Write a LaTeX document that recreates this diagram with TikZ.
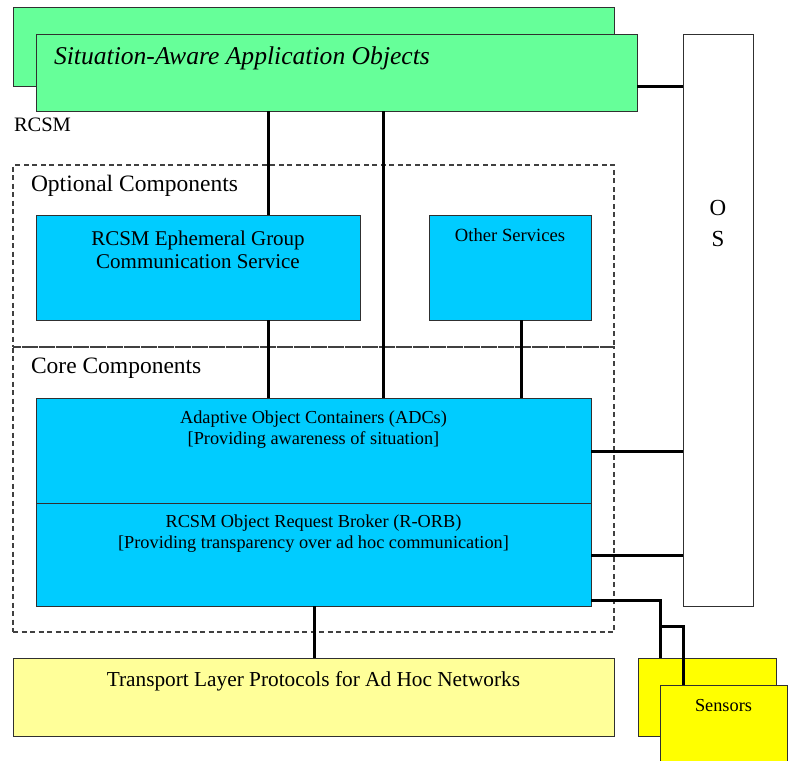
\documentclass[tikz,border=0pt]{standalone}
\usepackage{fontspec}
\setmainfont{Liberation Serif}
\usetikzlibrary{calc}
\definecolor{appgreen}{HTML}{66FF99}
\definecolor{corecyan}{HTML}{00CCFF}
\definecolor{paleyellow}{HTML}{FFFF99}
\definecolor{sensoryellow}{HTML}{FFFF00}
\definecolor{edge}{HTML}{303030}
\definecolor{dashgray}{HTML}{404040}
\newcommand{\fs}[2]{\fontsize{#1}{#2}\selectfont}
\begin{document}
\begin{tikzpicture}[x=1pt,y=-1pt,
  box/.style={draw=edge, line width=1pt, inner sep=0pt, outer sep=0pt, anchor=north west},
  grp/.style={draw=dashgray, dash pattern=on 5pt off 3.5pt, line width=1.2pt,
              inner sep=0pt, outer sep=0pt, anchor=north west},
  conn/.style={line width=3pt, black},
  txt/.style={inner sep=0pt, outer sep=0pt, align=center}]
\useasboundingbox (0,0) rectangle (788,761);

% application objects (stacked pair)
\node[box, fill=appgreen, minimum width=601pt, minimum height=79pt] (apoback) at (13,7) {};
\node[box, fill=appgreen, minimum width=601pt, minimum height=77pt] (apo) at (36,34) {};
\node[txt, anchor=west, font=\fs{25.6}{29}\itshape] (apotext) at (54,58) {Situation-Aware Application Objects};

% operating system column
\node[box, fill=white, minimum width=70pt, minimum height=572pt] (os) at (683,34) {};
\node[txt, font=\fs{23}{26}, text height=16pt] (ostext1) at (718,208) {O};
\node[txt, font=\fs{23}{26}, text height=16pt] (ostext2) at (718,239) {S};

\node[txt, anchor=west, font=\fs{20.5}{23}] (rcsm) at (14,125) {RCSM};

% component groups
\node[grp, minimum width=601pt, minimum height=182pt] (optional) at (13,165) {};
\node[grp, minimum width=601pt, minimum height=285pt] (core) at (13,347) {};
\node[txt, anchor=west, font=\fs{23.5}{27}] (optlabel) at (31,186) {Optional Components};
\node[txt, anchor=west, font=\fs{23.5}{27}] (corelabel) at (31,368) {Core Components};

% optional services
\node[box, fill=corecyan, minimum width=324pt, minimum height=105pt] (eph) at (36,215) {};
\node[txt, font=\fs{21}{22.5}] (ephtext) at (198,250) {RCSM Ephemeral Group\\Communication Service};
\node[box, fill=corecyan, minimum width=162pt, minimum height=105pt] (other) at (429,215) {};
\node[txt, font=\fs{18.6}{21}] (othertext) at (510,235) {Other Services};

% core layers
\node[box, fill=corecyan, minimum width=555pt, minimum height=105pt] (adc) at (36,398) {};
\node[txt, font=\fs{18.3}{21}] (adctext) at (313.5,430) {Adaptive Object Containers (ADCs)\\{}[Providing awareness of situation]};
\node[box, fill=corecyan, minimum width=555pt, minimum height=103pt] (orb) at (36,503) {};
\node[txt, font=\fs{18.3}{21}] (orbtext) at (313.5,534) {RCSM Object Request Broker (R-ORB)\\{}[Providing transparency over ad hoc communication]};

% transport layer
\node[box, fill=paleyellow, minimum width=601pt, minimum height=78pt] (trans) at (13,658) {};
\node[txt, font=\fs{21.3}{24}] (transtext) at (313.5,681) {Transport Layer Protocols for Ad Hoc Networks};

% sensors (stacked pair)
\node[box, fill=sensoryellow, minimum width=138pt, minimum height=78pt] (sensback) at (638,658) {};

% connector guides
\coordinate (xa) at (268,0);
\coordinate (xb) at (383,0);
\coordinate (xc) at (521,0);
\coordinate (xt) at (314,0);
\coordinate (xs1) at (660,0);
\coordinate (xs2) at (683,0);
\coordinate (ya) at (0,86);
\coordinate (yadc) at (0,451);
\coordinate (yorb) at (0,555);
\coordinate (ysen) at (0,600);
\coordinate (ybr) at (0,626);
\coordinate (yfront) at (0,686);

\draw[conn] (apo.south -| xa) -- (eph.north -| xa);
\draw[conn] (eph.south -| xa) -- (adc.north -| xa);
\draw[conn] (apo.south -| xb) -- (adc.north -| xb);
\draw[conn] (other.south -| xc) -- (adc.north -| xc);
\draw[conn] (apo.east |- ya) -- (os.west |- ya);
\draw[conn] (adc.east |- yadc) -- (os.west |- yadc);
\draw[conn] (orb.east |- yorb) -- (os.west |- yorb);
\draw[conn] (orb.south -| xt) -- (trans.north -| xt);
\draw[conn] (orb.east |- ysen) -| (sensback.north -| xs1);
\draw[conn] (xs1 |- ybr) -| (xs2 |- yfront);

\node[box, fill=sensoryellow, minimum width=127pt, minimum height=85pt] (sensfront) at (660,685) {};
\node[txt, font=\fs{18.3}{21}] (senstext) at (723.5,706) {Sensors};
\end{tikzpicture}
\end{document}
